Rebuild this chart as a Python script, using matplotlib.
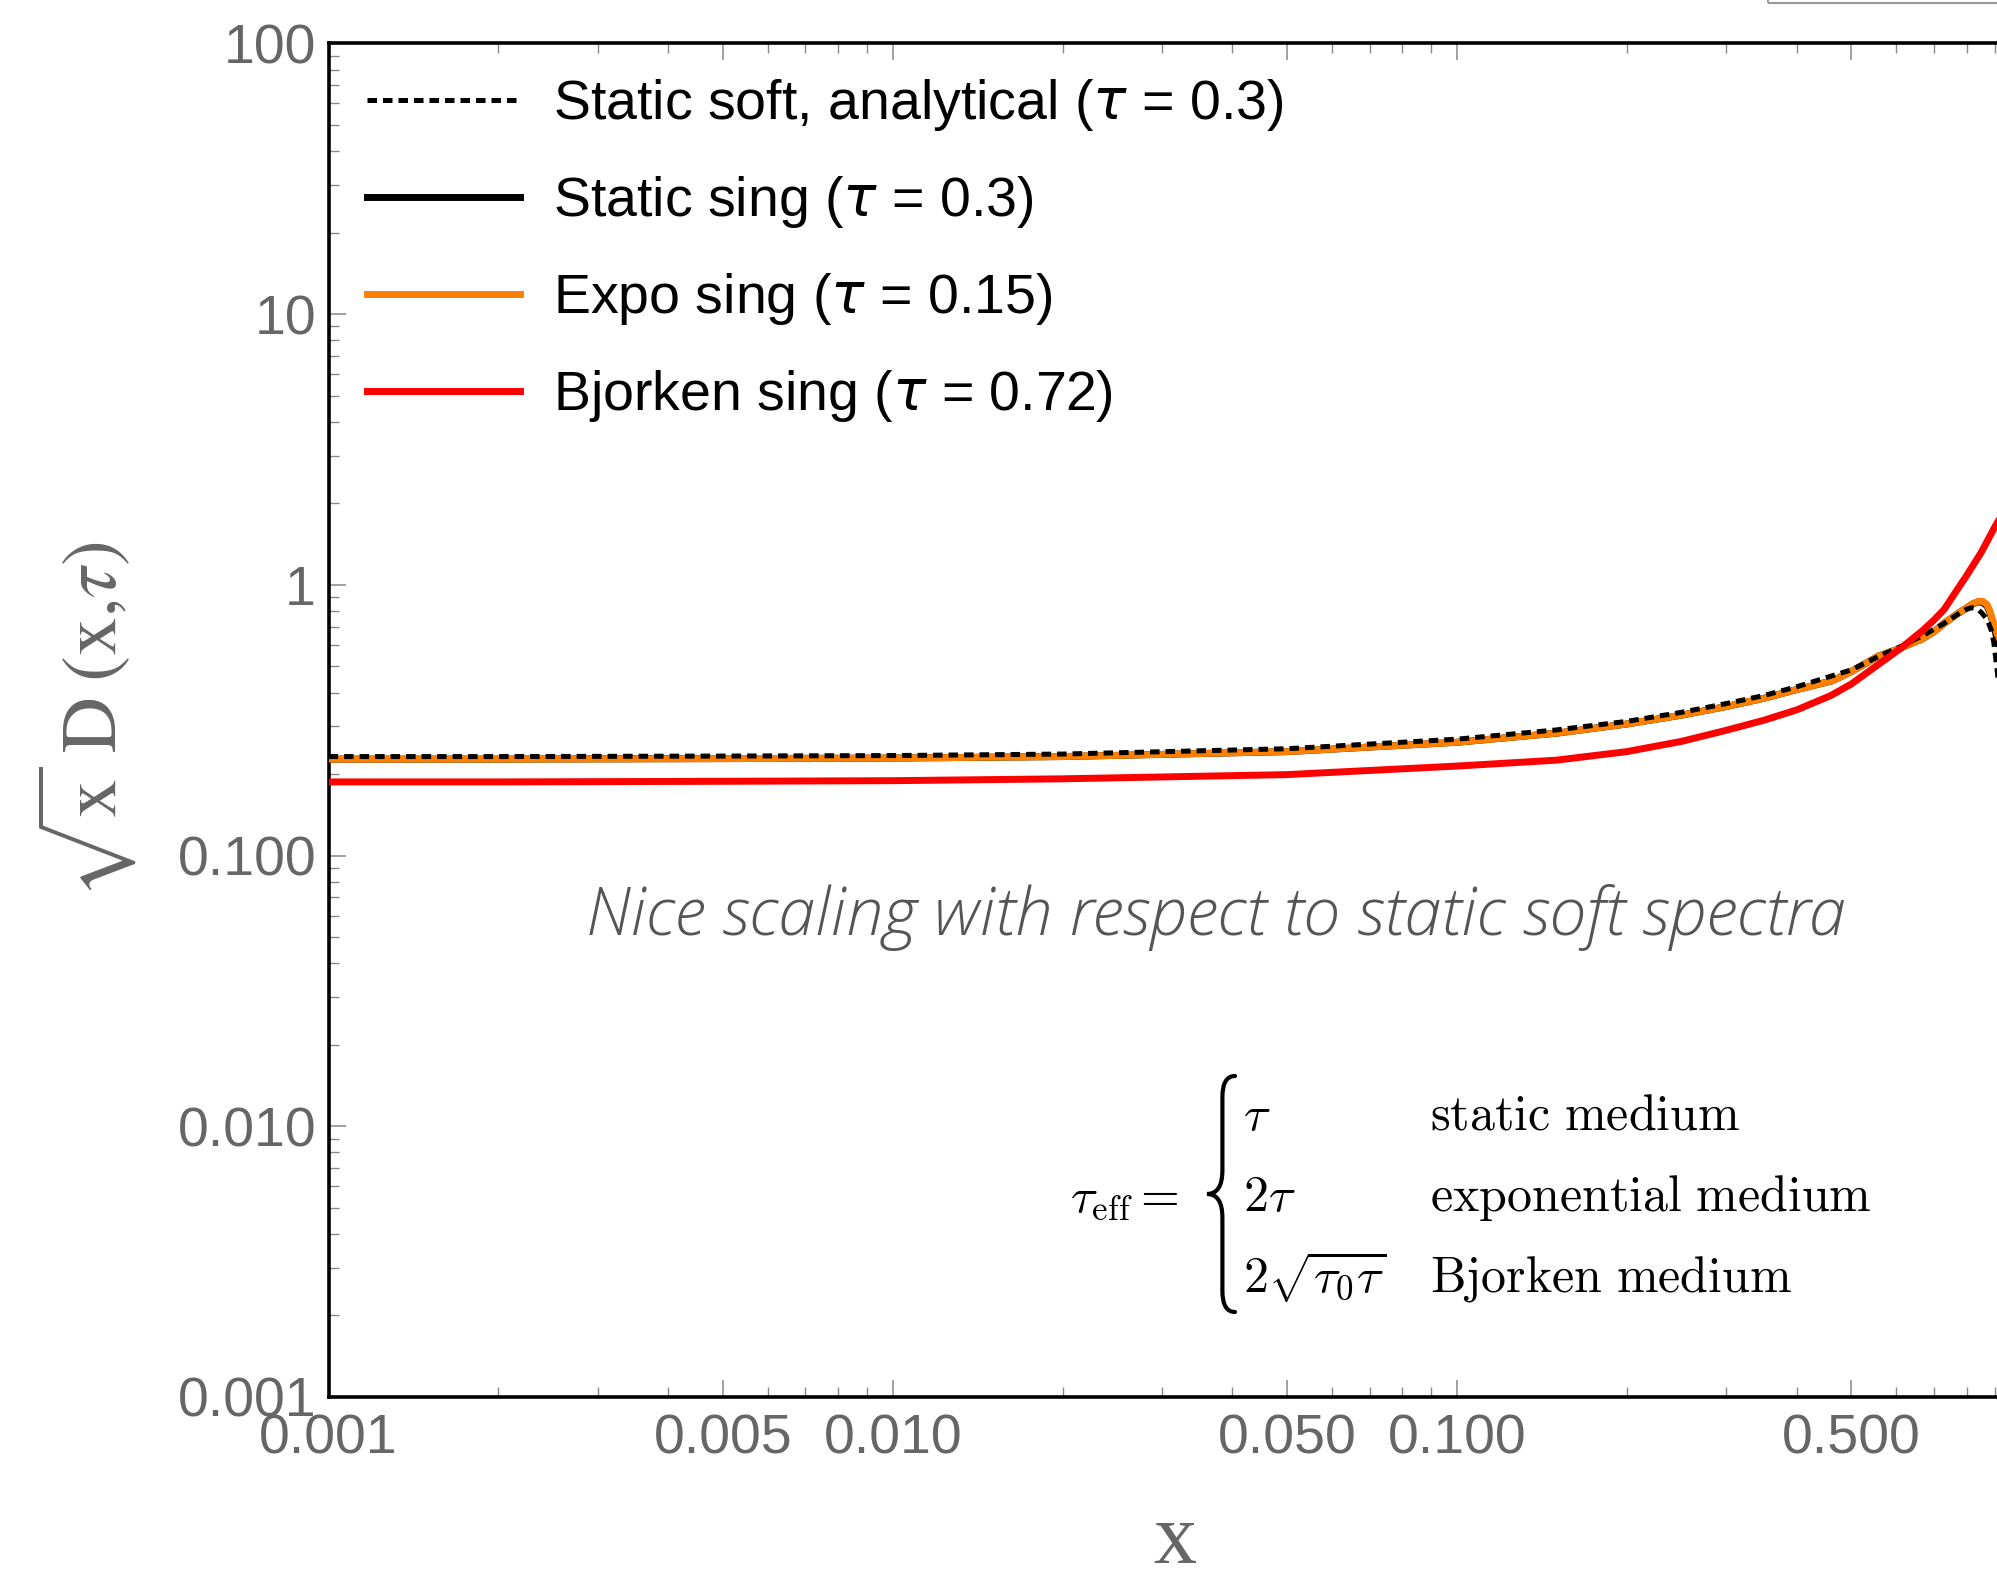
import matplotlib
matplotlib.use('Agg')
import matplotlib.pyplot as plt
from matplotlib.path import Path
from matplotlib.patches import PathPatch, Rectangle
from matplotlib.ticker import FixedLocator, FixedFormatter, NullFormatter
import numpy as np

# data
x_soft = [0.001, 0.002, 0.005, 0.01, 0.02, 0.05, 0.1, 0.15, 0.2, 0.25, 0.3, 0.35, 0.4, 0.5, 0.56, 0.61,
          0.67, 0.73, 0.78, 0.80, 0.817, 0.835, 0.85, 0.87, 0.885, 0.894, 0.906, 0.92]
y_soft = [0.232, 0.232, 0.233, 0.234, 0.237, 0.248, 0.269, 0.291, 0.313, 0.338, 0.364, 0.39, 0.42, 0.485, 0.545, 0.59,
          0.65, 0.72, 0.79, 0.812, 0.823, 0.815, 0.79, 0.746, 0.68, 0.614, 0.49, 0.35]

x_sing = [0.001, 0.002, 0.005, 0.01, 0.02, 0.05, 0.1, 0.15, 0.2, 0.25, 0.3, 0.35, 0.4, 0.463, 0.5, 0.558, 0.6,
          0.667, 0.7, 0.73, 0.77, 0.8, 0.82, 0.84, 0.855, 0.87, 0.88, 0.89, 0.9, 0.92]
y_static = [0.227, 0.227, 0.228, 0.229, 0.232, 0.242, 0.262, 0.283, 0.306, 0.33, 0.355, 0.381, 0.41, 0.442, 0.478, 0.545, 0.575,
            0.63, 0.67, 0.72, 0.78, 0.82, 0.85, 0.865, 0.86, 0.835, 0.79, 0.73, 0.67, 0.55]
y_expo = [0.227, 0.227, 0.228, 0.229, 0.232, 0.242, 0.262, 0.283, 0.306, 0.33, 0.355, 0.381, 0.41, 0.442, 0.478, 0.545, 0.575,
          0.63, 0.67, 0.72, 0.78, 0.82, 0.85, 0.87, 0.868, 0.845, 0.80, 0.74, 0.69, 0.6]

x_bj = [0.001, 0.002, 0.005, 0.01, 0.02, 0.05, 0.1, 0.15, 0.2, 0.25, 0.3, 0.35, 0.4, 0.46, 0.5, 0.56, 0.61,
        0.67, 0.7, 0.73, 0.76, 0.8, 0.85, 0.9, 0.92]
y_bj = [0.187, 0.187, 0.188, 0.189, 0.192, 0.199, 0.214, 0.225, 0.242, 0.264, 0.29, 0.316, 0.345, 0.39, 0.43, 0.51, 0.58,
        0.68, 0.74, 0.81, 0.92, 1.08, 1.32, 1.65, 1.78]

labels = [r'Static soft, analytical ($\tau$ = 0.3)', r'Static sing ($\tau$ = 0.3)',
          r'Expo sing ($\tau$ = 0.15)', r'Bjorken sing ($\tau$ = 0.72)']

xticks = [0.001, 0.005, 0.01, 0.05, 0.1, 0.5]
xticklabels = ['0.001', '0.005', '0.010', '0.050', '0.100', '0.500']
yticks = [0.001, 0.01, 0.1, 1, 10, 100]
yticklabels = ['0.001', '0.010', '0.100', '1', '10', '100']

W, H = 1997, 1576
fig = plt.figure(figsize=(W / 100, H / 100), dpi=100)

def fx(px):
    return px / W

def fy(py):
    return 1 - py / H

# axes runs past the right edge of the figure (cropped like the original)
ax = fig.add_axes([fx(328.6), fy(1397), 1692.6 / W, 1353.7 / H])
ax.set_xscale('log')
ax.set_yscale('log')
ax.set_xlim(0.001, 1)
ax.set_ylim(0.001, 100)

lw = 5.0
ax.plot(x_sing, y_static, color='black', lw=lw, label=labels[1], zorder=2)
ax.plot(x_sing, y_expo, color='#ff8000', lw=lw, label=labels[2], zorder=3)
ax.plot(x_soft, y_soft, color='black', lw=3.6, ls=(0, (1.9, 1.2)), label=labels[0], zorder=4)
ax.plot(x_bj, y_bj, color='#ff0000', lw=lw, label=labels[3], zorder=5)

handles, labs = ax.get_legend_handles_labels()
order = [2, 0, 1, 3]
leg = ax.legend([handles[i] for i in order], [labs[i] for i in order],
                loc='upper left', bbox_to_anchor=(0.0227, 0.975), frameon=False,
                handlelength=2.75, handletextpad=0.6, labelspacing=0.74,
                borderpad=0, borderaxespad=0,
                prop={'family': 'Liberation Sans', 'size': 40})

gray = '#666666'
ax.xaxis.set_major_locator(FixedLocator(xticks))
ax.xaxis.set_major_formatter(FixedFormatter(xticklabels))
ax.xaxis.set_minor_formatter(NullFormatter())
ax.yaxis.set_major_locator(FixedLocator(yticks))
ax.yaxis.set_major_formatter(FixedFormatter(yticklabels))
ax.yaxis.set_minor_formatter(NullFormatter())
ax.tick_params(which='both', direction='in', top=True, right=True, color='#888888')
ax.tick_params(which='major', length=12, width=1.1, labelsize=40, labelcolor=gray)
ax.tick_params(which='minor', length=7, width=1.0)
ax.tick_params(axis='x', which='major', pad=12)
ax.tick_params(axis='y', which='major', pad=9)
for t in ax.get_xticklabels() + ax.get_yticklabels():
    t.set_family('Liberation Sans')
for s in ax.spines.values():
    s.set_linewidth(2.6)

ax.set_xlabel('x', fontsize=62, family='Liberation Serif', color=gray)
ax.xaxis.set_label_coords(0.5, -0.078)
ax.set_ylabel(r'$\sqrt{\mathrm{x}}\;\mathrm{D}\;(\mathrm{x}{,}\tau)$', fontsize=56, color=gray,
              math_fontfamily='stix')
ax.yaxis.set_label_coords(-0.112, 0.5)

# note in the middle
fig.text(fx(1216), fy(917), 'Nice scaling with respect to static soft spectra',
         ha='center', va='center', fontsize=48, color='#555555',
         family='Open Sans', style='italic', weight='light')

# tau_eff cases
fs = 36
fig.text(fx(1070), fy(1211), r'$\tau_{\rm eff} =$', fontsize=fs, math_fontfamily='cm', va='baseline')
rows_l = [r'$\tau$', r'$2\tau$', r'$2\sqrt{\tau_0\tau}$']
rows_r = [r'$\mathrm{static\ medium}$', r'$\mathrm{exponential\ medium}$', r'$\mathrm{Bjorken\ medium}$']
for yb, a, b in zip([1130, 1211, 1292], rows_l, rows_r):
    fig.text(fx(1243), fy(yb), a, fontsize=fs, math_fontfamily='cm', va='baseline')
    fig.text(fx(1430), fy(yb), b, fontsize=fs, math_fontfamily='cm', va='baseline')

# curly brace
bx0, bx1, by0, by1 = 1207, 1235, 1076, 1312
def bp(u, v):
    return (fx(bx0 + u * (bx1 - bx0)), fy(by0 + v * (by1 - by0)))
verts = [bp(1, 0), bp(0.55, 0), bp(0.55, 0.09),
         bp(0.55, 0.40),
         bp(0.55, 0.5), bp(0, 0.5),
         bp(0.55, 0.5), bp(0.55, 0.60),
         bp(0.55, 0.91),
         bp(0.55, 1), bp(1, 1)]
codes = [Path.MOVETO, Path.CURVE3, Path.CURVE3, Path.LINETO, Path.CURVE3, Path.CURVE3,
         Path.CURVE3, Path.CURVE3, Path.LINETO, Path.CURVE3, Path.CURVE3]
fig.add_artist(PathPatch(Path(verts, codes), transform=fig.transFigure, fill=False,
                         lw=3.0, edgecolor='black', capstyle='round'))

# edge of a box cut off at the top right
fig.add_artist(Rectangle((fx(1768), fy(3)), 0.5, 0.5, transform=fig.transFigure,
                         fill=False, edgecolor='#999999', lw=1.5))

fig.savefig('out.png', dpi=100)
